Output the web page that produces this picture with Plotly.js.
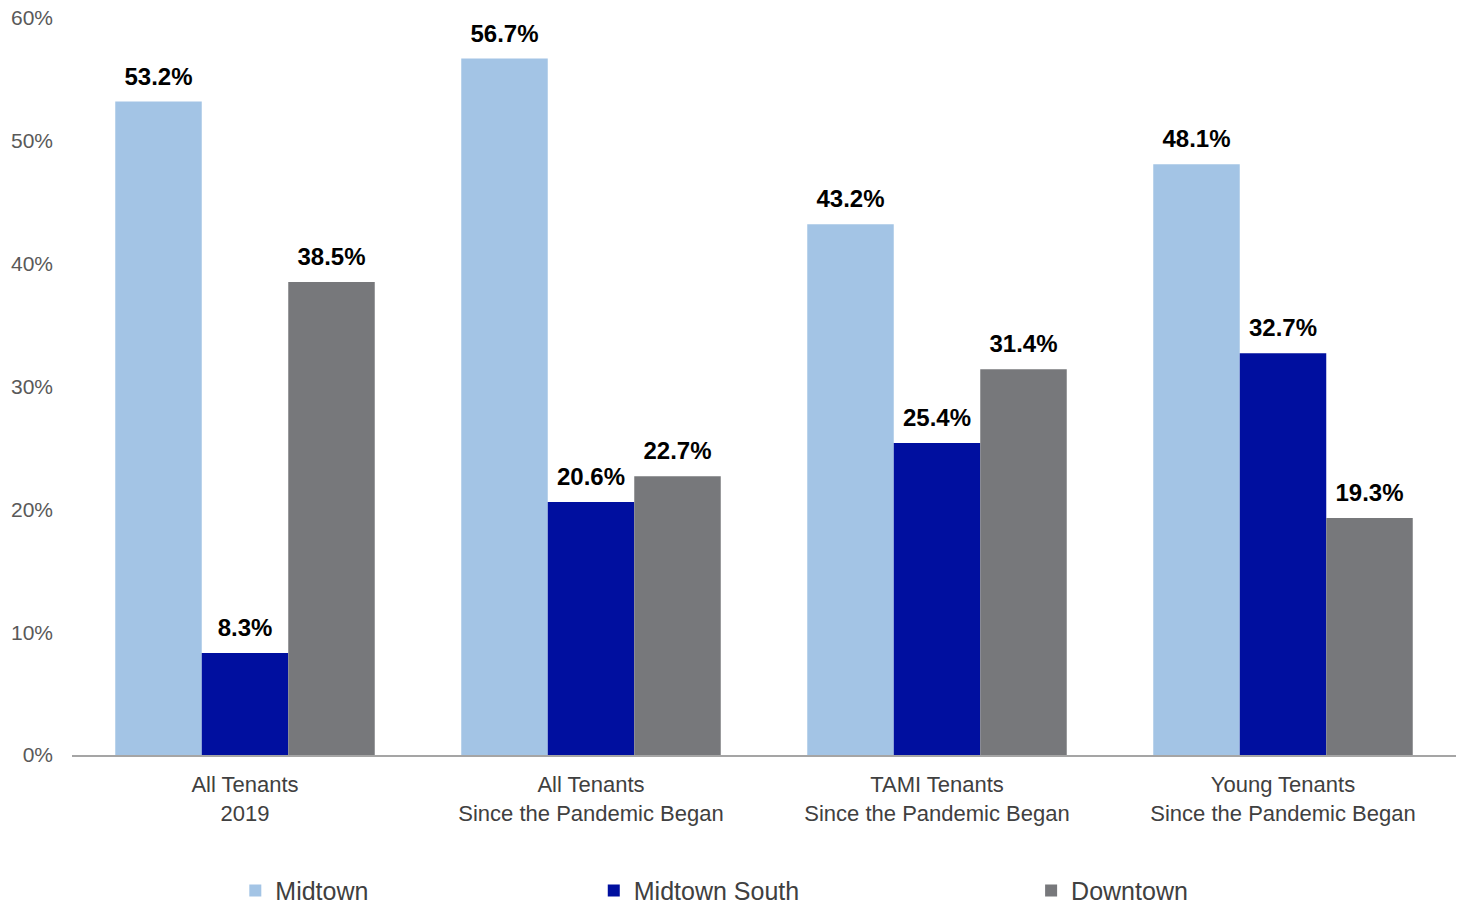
<!DOCTYPE html>
<html>
<head>
<meta charset="utf-8">
<script src="https://cdn.plot.ly/plotly-3.0.1.min.js"></script>
<style>
  html, body { margin: 0; padding: 0; background: #ffffff; }
  #chart { width: 1462px; height: 907px; }
</style>
</head>
<body>
<div id="chart"></div>
<script>
// Tenant groups (category axis), two-line labels
const categories = [
  'All Tenants<br>2019',
  'All Tenants<br>Since the Pandemic Began',
  'TAMI Tenants<br>Since the Pandemic Began',
  'Young Tenants<br>Since the Pandemic Began'
];

// Share of tenants by submarket, percent
const midtown      = [53.2, 56.7, 43.2, 48.1];
const midtownSouth = [8.3, 20.6, 25.4, 32.7];
const downtown     = [38.5, 22.7, 31.4, 19.3];

const seriesNames = ['Midtown', 'Midtown South', 'Downtown'];
const seriesValues = [midtown, midtownSouth, downtown];
const seriesColors = ['#A3C4E5', '#000F9F', '#77787B'];
const legendIds = ['legend', 'legend2', 'legend3'];

const FONT = 'Liberation Sans, Arial, sans-serif';

const traces = [];

// Bars
seriesValues.forEach((vals, i) => {
  traces.push({
    type: 'bar',
    name: seriesNames[i],
    x: categories,
    y: vals,
    marker: { color: seriesColors[i], line: { width: 0 } },
    legend: legendIds[i],
    hoverinfo: 'skip'
  });
});

// Value labels, grouped the same way as the bars
seriesValues.forEach((vals, i) => {
  traces.push({
    type: 'scatter',
    mode: 'markers+text',
    x: categories,
    y: vals,
    text: vals.map(v => '<b>' + v.toFixed(1) + '%</b>'),
    textposition: 'top center',
    textfont: { family: FONT, size: 24, color: '#000000' },
    marker: { size: 16, color: 'rgba(0,0,0,0)' },
    showlegend: false,
    cliponaxis: false,
    hoverinfo: 'skip'
  });
});

const legendBase = {
  orientation: 'h',
  yref: 'container',
  yanchor: 'middle',
  y: 0.018,
  xanchor: 'left',
  font: { family: FONT, size: 25, color: '#404040' },
  bgcolor: 'rgba(0,0,0,0)',
  borderwidth: 0
};

const layout = {
  width: 1462,
  height: 907,
  paper_bgcolor: '#ffffff',
  plot_bgcolor: '#ffffff',
  margin: { l: 72, r: 6, t: 18, b: 152 },
  barmode: 'group',
  bargap: 0.25,
  bargroupgap: 0,
  scattermode: 'group',
  scattergap: 0.25,
  font: { family: FONT },
  xaxis: {
    type: 'category',
    automargin: false,
    showgrid: false,
    zeroline: false,
    showline: true,
    linecolor: '#A5A5A5',
    linewidth: 2,
    ticks: '',
    ticklabelstandoff: 9,
    tickfont: { family: FONT, size: 22, color: '#404040' }
  },
  yaxis: {
    range: [0, 60],
    dtick: 10,
    ticksuffix: '%',
    automargin: false,
    showgrid: false,
    zeroline: false,
    showline: false,
    ticks: '',
    ticklabelstandoff: 18,
    tickfont: { family: FONT, size: 21, color: '#595959' }
  },
  legend: Object.assign({}, legendBase, { x: 0.118 }),
  legend2: Object.assign({}, legendBase, { x: 0.377 }),
  legend3: Object.assign({}, legendBase, { x: 0.693 }),
  showlegend: true
};

Plotly.newPlot('chart', traces, layout, { displayModeBar: false, staticPlot: true });
</script>
</body>
</html>
